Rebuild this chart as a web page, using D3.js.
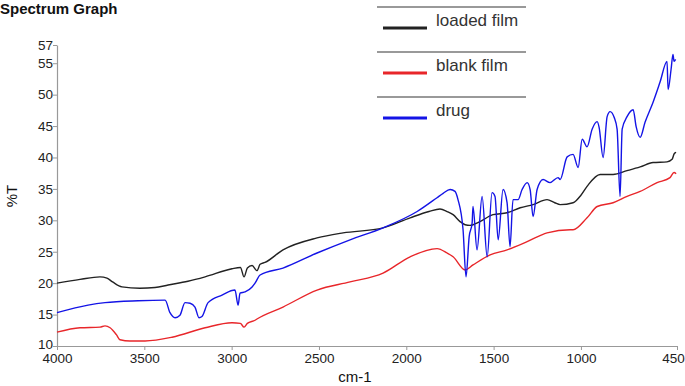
<!DOCTYPE html>
<html>
<head>
<meta charset="utf-8">
<script src="https://cdn.jsdelivr.net/npm/d3@7"></script>
<style>
  body { margin: 0; background: #fff; }
  svg { display: block; font-family: "Liberation Sans", Arial, sans-serif; }
</style>
</head>
<body>
<svg id="chart"></svg>
<script>
"use strict";

// data: [wavenumber cm-1, %T]
var loadedFilm = [[4000,20.0],[3868,20.6],[3754,21.0],[3714,20.8],[3682,20.2],[3628,19.4],[3525,19.2],[3439,19.3],[3364,19.7],[3250,20.3],[3152,21.0],[2998,22.3],[2950,22.5],[2929,21.0],[2910,22.4],[2883,22.8],[2855,22.0],[2837,23.0],[2809,23.3],[2706,25.3],[2511,27.2],[2362,28.0],[2133,28.8],[1978,30.4],[1870,31.4],[1807,31.8],[1766,31.4],[1732,30.9],[1692,29.8],[1663,29.3],[1635,29.2],[1578,29.8],[1503,30.9],[1423,31.2],[1348,32.0],[1274,32.5],[1194,33.3],[1150,32.8],[1119,32.5],[1045,32.8],[1000,34.0],[965,35.4],[890,37.3],[816,37.3],[736,37.9],[661,38.5],[587,39.2],[507,39.3],[478,39.7],[466,40.6],[455,40.8]];

var blankFilm = [[4000,12.2],[3868,12.9],[3754,13.0],[3725,13.2],[3696,12.9],[3660,11.8],[3639,11.0],[3582,10.8],[3496,10.8],[3341,11.4],[3152,12.9],[2998,13.7],[2950,13.6],[2929,13.0],[2910,13.6],[2866,14.1],[2855,14.3],[2706,16.2],[2511,18.9],[2322,20.2],[2133,21.6],[1978,24.2],[1824,25.5],[1766,24.8],[1732,24.2],[1663,22.1],[1618,22.9],[1520,24.5],[1423,25.3],[1308,26.6],[1194,28.0],[1062,28.5],[1045,28.5],[965,30.4],[907,32.2],[816,32.8],[736,33.8],[661,34.6],[564,36.0],[490,36.8],[467,37.6],[455,37.4]];

var drug = [[4000,15.3],[3822,16.5],[3725,16.9],[3536,17.2],[3381,17.3],[3353,15.3],[3324,14.5],[3296,14.9],[3267,16.9],[3238,16.8],[3210,16.2],[3187,14.5],[3170,14.7],[3135,16.9],[3055,18.1],[2981,18.9],[2963,16.5],[2952,18.4],[2923,18.6],[2883,19.4],[2866,20.0],[2837,21.3],[2706,22.4],[2511,24.8],[2322,26.9],[2133,28.8],[1938,31.4],[1824,33.6],[1789,34.3],[1749,34.9],[1721,34.6],[1704,33.3],[1675,28.5],[1658,21.0],[1640,27.4],[1623,29.6],[1618,32.2],[1595,25.3],[1566,33.8],[1537,24.2],[1509,34.4],[1492,33.8],[1474,26.9],[1446,34.9],[1423,32.8],[1406,25.8],[1389,33.3],[1360,33.3],[1337,34.9],[1308,36.0],[1291,34.9],[1274,30.6],[1251,34.9],[1217,36.5],[1177,36.0],[1131,36.8],[1119,36.5],[1079,40.1],[1045,40.5],[1016,38.4],[993,42.9],[965,41.7],[936,44.5],[907,45.7],[896,44.8],[873,40.0],[850,46.5],[833,47.3],[810,46.4],[793,44.5],[776,33.8],[764,44.5],[736,46.5],[701,47.6],[684,44.9],[661,43.2],[633,45.6],[587,48.8],[547,52.0],[507,55.3],[501,50.8],[484,54.0],[473,56.4],[467,55.3],[458,55.6]];

var xTicks = [4000, 3500, 3000, 2500, 2000, 1500, 1000, 450];
var yTicks = [10, 15, 20, 25, 30, 35, 40, 45, 50, 55, 57.9];
var yTickLabels = ["10", "15", "20", "25", "30", "35", "40", "45", "50", "55", "57"];
var seriesNames = ["loaded film", "blank film", "drug"];
var seriesColors = ["#222222", "#e8262a", "#1414e6"];

var width = 685;
var height = 386;
var svg = d3.select("#chart").attr("width", width).attr("height", height);

var x = d3.scaleLinear().domain([4000, 450]).range([57, 677]);
var y = d3.scaleLinear().domain([10, 57.9]).range([346, 45]);

var xAxis = d3.axisBottom(x).tickValues(xTicks).tickSize(4).tickSizeOuter(0).tickFormat(d3.format("d"));
var yAxis = d3.axisLeft(y).tickValues(yTicks).tickSize(4).tickSizeOuter(0)
  .tickFormat(function (d, i) { return yTickLabels[i]; });

var gx = svg.append("g").attr("transform", "translate(0,346)").call(xAxis);
var gy = svg.append("g").attr("transform", "translate(57,0)").call(yAxis);

[gx, gy].forEach(function (g) {
  g.select(".domain").attr("stroke", "#999").attr("stroke-width", 1.2);
  g.selectAll(".tick line").attr("stroke", "#999");
  g.selectAll(".tick text").attr("fill", "#222").style("font-size", "13.5px");
});
gx.selectAll(".tick text").attr("dy", "0.75em")
  .attr("dx", function (d) { return d === 450 ? -4 : 0; });
gy.selectAll(".tick text").attr("x", -4)
  .attr("dy", function (d) { return d === 10 ? "0.2em" : "0.32em"; });

var line = d3.line()
  .x(function (d) { return x(d[0]); })
  .y(function (d) { return y(d[1]); })
  .curve(d3.curveMonotoneX);

[loadedFilm, blankFilm, drug].forEach(function (s, i) {
  svg.append("path").datum(s)
    .attr("fill", "none")
    .attr("stroke", seriesColors[i])
    .attr("stroke-width", 1.4)
    .attr("stroke-linejoin", "round")
    .attr("d", line);
});

// title and axis labels
svg.append("text").attr("x", 0).attr("y", 14).attr("font-weight", "bold")
  .style("font-size", "15px").attr("fill", "#111").text("Spectrum Graph");
svg.append("text").attr("x", 355).attr("y", 382).attr("text-anchor", "middle")
  .style("font-size", "15px").attr("fill", "#111").text("cm-1");
svg.append("text").attr("transform", "translate(17,196) rotate(-90)").attr("text-anchor", "middle")
  .style("font-size", "15px").attr("fill", "#111").text("%T");

// legend
var legend = svg.append("g");
seriesNames.forEach(function (name, i) {
  var top = 7 + i * 45;
  legend.append("line").attr("x1", 377).attr("x2", 526).attr("y1", top).attr("y2", top)
    .attr("stroke", "#999").attr("stroke-width", 2);
  legend.append("line").attr("x1", 383).attr("x2", 427).attr("y1", top + 21).attr("y2", top + 21)
    .attr("stroke", seriesColors[i]).attr("stroke-width", 3);
  legend.append("text").attr("x", 436).attr("y", top + 19)
    .style("font-size", "17px").attr("fill", "#333").text(name);
});
</script>
</body>
</html>
